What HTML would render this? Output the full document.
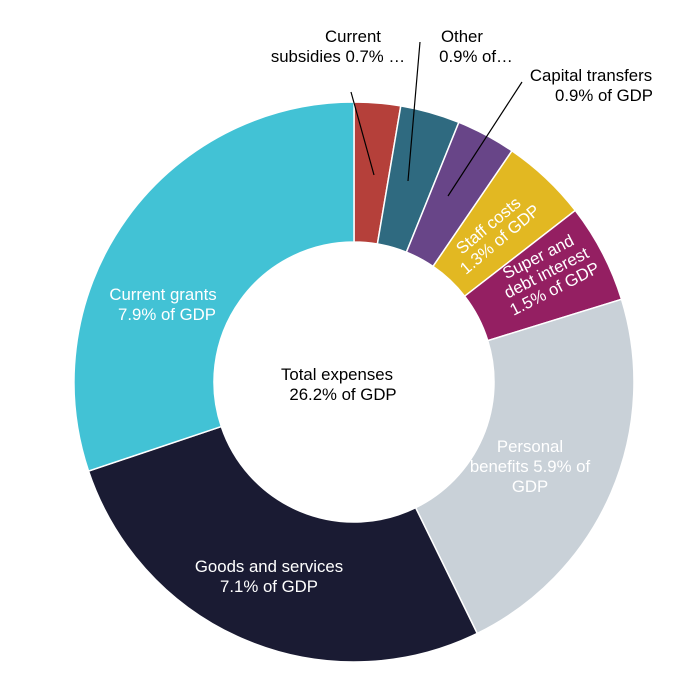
<!DOCTYPE html>
<html><head><meta charset="utf-8"><style>
body{margin:0;background:#fff}
svg{display:block;font-family:"Liberation Sans",Arial,sans-serif;font-size:16.8px}
</style></head><body>
<svg id="s" width="700" height="678" viewBox="0 0 700 678">
<g id="slices"></g>
<g fill="#000">
<line x1="351" y1="92" x2="374" y2="175" stroke="#000" stroke-width="1.2"/>
<line x1="420" y1="42" x2="408" y2="181" stroke="#000" stroke-width="1.2"/>
<line x1="522" y1="82" x2="448" y2="196" stroke="#000" stroke-width="1.2"/>
<text x="353" y="42" text-anchor="middle">Current</text>
<text x="338" y="62" text-anchor="middle">subsidies 0.7% …</text>
<text x="462" y="42" text-anchor="middle">Other</text>
<text x="476" y="62" text-anchor="middle">0.9% of…</text>
<text x="591" y="81" text-anchor="middle">Capital transfers</text>
<text x="604" y="101" text-anchor="middle">0.9% of GDP</text>
<text x="337" y="380" text-anchor="middle">Total expenses</text>
<text x="343" y="400" text-anchor="middle">26.2% of GDP</text>
</g>
<g fill="#fff">
<text x="163" y="300" text-anchor="middle">Current grants</text>
<text x="167" y="320" text-anchor="middle">7.9% of GDP</text>
<text x="269" y="572" text-anchor="middle">Goods and services</text>
<text x="269" y="592" text-anchor="middle">7.1% of GDP</text>
<text x="530" y="452" text-anchor="middle">Personal</text>
<text x="530" y="472" text-anchor="middle">benefits 5.9% of</text>
<text x="530" y="492" text-anchor="middle">GDP</text>
<g transform="translate(497,236) rotate(-40)"><text x="0" y="-8" text-anchor="middle">Staff costs</text><text x="0" y="10" text-anchor="middle">1.3% of GDP</text></g>
<g transform="translate(548,276) rotate(-27)"><text x="0" y="-16" text-anchor="middle">Super and</text><text x="0" y="2" text-anchor="middle">debt interest</text><text x="0" y="20" text-anchor="middle">1.5% of GDP</text></g>
</g>
</svg>
<script>
var d=[[0.7,"#b5403a"],[0.9,"#2f6a80"],[0.9,"#684588"],[1.3,"#e2b822"],[1.5,"#941f62"],[5.9,"#c9d1d8"],[7.1,"#1a1b33"],[7.9,"#42c2d5"]];
var cx=354,cy=382,R=280,r=140,t=26.2,a=0,h="";
function p(rad,ang){return [cx+rad*Math.sin(ang),cy-rad*Math.cos(ang)];}
d.forEach(function(s){var a0=a/t*2*Math.PI;a+=s[0];var a1=a/t*2*Math.PI;var l=(a1-a0)>Math.PI?1:0;
var A=p(R,a0),B=p(R,a1),C=p(r,a1),D=p(r,a0);
h+='<path d="M'+A+' A'+R+' '+R+' 0 '+l+' 1 '+B+' L'+C+' A'+r+' '+r+' 0 '+l+' 0 '+D+'Z" fill="'+s[1]+'" stroke="#fff" stroke-width="1.5"/>';});
document.getElementById("slices").innerHTML=h;
</script>
</body></html>
